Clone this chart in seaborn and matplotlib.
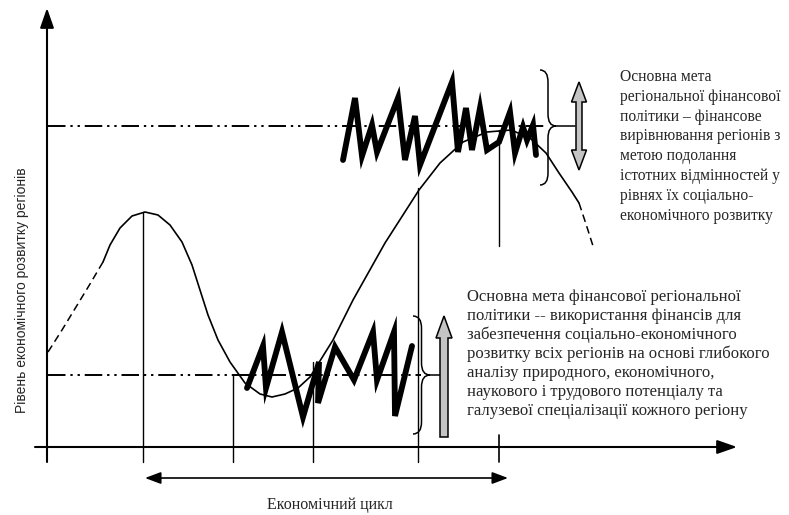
import numpy as np
import pandas as pd
import seaborn as sns
import matplotlib.pyplot as plt
from matplotlib.path import Path
from matplotlib.patches import PathPatch, Polygon


# основна крива (пікселі картинки, y вниз)
kriva_pochatok_x = [48, 62, 76, 90, 103]
kriva_pochatok_y = [352, 330, 307, 284, 262]

kriva_x = [103, 110, 120, 132, 145, 158, 170, 182, 192, 200, 208, 218, 230, 245, 260, 272,
           285, 298, 310, 333, 353, 385, 419, 440, 463, 487, 511, 530, 546, 559, 572, 579]
kriva_y = [262, 245, 228, 216, 212, 215, 225, 242, 265, 290, 315, 340, 362, 383, 394, 397,
           394, 388, 377, 340, 300, 243, 190, 163, 142, 132, 130, 138, 153, 173, 192, 203]

kriva_kinec_x = [579, 586, 593]
kriva_kinec_y = [203, 224, 246]

# коливання (зигзаги)
zigzag_verh_x = [343, 355, 362, 372, 377, 398, 405, 415, 420, 452, 458, 466, 472,
                 480, 487, 499, 510, 515, 523, 527, 533, 536]
zigzag_verh_y = [160, 98, 156, 125, 152, 98, 160, 116, 165, 82, 152, 108, 150,
                 108, 150, 142, 112, 153, 127, 140, 125, 155]

zigzag_niz_x = [247, 263, 266, 282, 303, 319, 318, 335, 354, 373, 377, 394, 395, 412]
zigzag_niz_y = [388, 346, 388, 332, 417, 362, 403, 347, 380, 332, 380, 332, 416, 346]

# рівні
riven_verh = 126
riven_niz = 375

# вертикальні лінії: x, верх, низ
vertykali_x = [143, 233, 313, 418, 499]
vertykali_verh = [212, 375, 362, 188, 130]
vertykali_niz = [462, 462, 462, 462, 246]

tekst_verh = ["Основна мета",
              "регіональної фінансової",
              "політики – фінансове",
              "вирівнювання регіонів з",
              "метою подолання",
              "істотних відмінностей у",
              "рівнях їх соціально-",
              "економічного розвитку"]

tekst_niz = ["Основна мета фінансової регіональної",
             "політики -- використання фінансів для",
             "забезпечення соціально-економічного",
             "розвитку всіх регіонів на основі глибокого",
             "аналізу природного, економічного,",
             "наукового і трудового потенціалу та",
             "галузевої спеціалізації кожного регіону"]

pidpys_y = "Рівень економічного розвитку регіонів"
pidpys_x = "Економічний цикл"


def duzhka(ax, x0, w, y_top, y_bot, y_mid, r=12):
    xm = x0 + w / 2
    verts = [(x0, y_top), (xm, y_top), (xm, y_top + r),
             (xm, y_mid - r), (xm, y_mid), (x0 + w, y_mid),
             (xm, y_mid), (xm, y_mid + r),
             (xm, y_bot - r), (xm, y_bot), (x0, y_bot)]
    codes = [Path.MOVETO, Path.CURVE3, Path.CURVE3,
             Path.LINETO, Path.CURVE3, Path.CURVE3,
             Path.CURVE3, Path.CURVE3,
             Path.LINETO, Path.CURVE3, Path.CURVE3]
    ax.add_patch(PathPatch(Path(verts, codes), fc="none", ec="black", lw=1.1))


def sira_strilka(ax, x, y_tip, y_end, shaft=6, head=15, head_len=18, dvi=False):
    s, h = shaft / 2, head / 2
    pts = [(x, y_tip), (x + h, y_tip + head_len), (x + s, y_tip + head_len)]
    if dvi:
        pts += [(x + s, y_end - head_len), (x + h, y_end - head_len), (x, y_end),
                (x - h, y_end - head_len), (x - s, y_end - head_len)]
    else:
        pts += [(x + s, y_end), (x - s, y_end)]
    pts += [(x - s, y_tip + head_len), (x - h, y_tip + head_len)]
    ax.add_patch(Polygon(pts, closed=True, fc="#c4c4c4", ec="black", lw=1.1, zorder=5))


def main():
    sns.set_theme(style="white")
    plt.rcParams["font.family"] = ["Liberation Serif", "DejaVu Serif"]

    fig = plt.figure(figsize=(7.89, 5.15), dpi=100)
    ax = fig.add_axes([0, 0, 1, 1])
    ax.set_xlim(0, 789)
    ax.set_ylim(515, 0)
    ax.axis("off")

    # осі
    ax.annotate("", xy=(47, 8), xytext=(47, 462),
                arrowprops=dict(arrowstyle="-|>,head_width=0.35,head_length=1.0",
                                color="black", lw=1.5, shrinkA=0, shrinkB=0))
    ax.annotate("", xy=(737, 447), xytext=(35, 447),
                arrowprops=dict(arrowstyle="-|>,head_width=0.35,head_length=1.0",
                                color="black", lw=1.5, shrinkA=0, shrinkB=0))
    ax.plot([499, 499], [435, 462], color="black", lw=1.2)

    for x, y0, y1 in zip(vertykali_x, vertykali_verh, vertykali_niz):
        ax.plot([x, x], [y0, y1], color="black", lw=1.0)

    # рівні
    ax.plot([48, 545], [riven_verh, riven_verh], color="black", lw=1.4,
            dashes=(9, 2.5, 1.2, 2.5, 1.2, 2.5))
    ax.plot([48, 421], [riven_niz, riven_niz], color="black", lw=1.4,
            dashes=(9, 2.5, 1.2, 2.5, 1.2, 2.5))
    ax.plot([556, 575], [riven_verh, riven_verh], color="black", lw=1.1)
    ax.plot([430, 440], [riven_niz, riven_niz], color="black", lw=1.1)

    # крива
    df1 = pd.DataFrame({"x": kriva_pochatok_x, "y": kriva_pochatok_y})
    df2 = pd.DataFrame({"x": kriva_x, "y": kriva_y})
    df3 = pd.DataFrame({"x": kriva_kinec_x, "y": kriva_kinec_y})
    sns.lineplot(data=df1, x="x", y="y", sort=False, estimator=None, color="black",
                 lw=1.1, linestyle=(0, (5, 3)), ax=ax)
    sns.lineplot(data=df2, x="x", y="y", sort=False, estimator=None, color="black",
                 lw=1.2, ax=ax)
    sns.lineplot(data=df3, x="x", y="y", sort=False, estimator=None, color="black",
                 lw=1.1, linestyle=(0, (5, 3)), ax=ax)

    # зигзаги
    for zx, zy in [(zigzag_verh_x, zigzag_verh_y), (zigzag_niz_x, zigzag_niz_y)]:
        sns.lineplot(x=zx, y=zy, sort=False, estimator=None, color="black",
                     lw=4.2, ax=ax)
        ax.lines[-1].set_solid_joinstyle("miter")

    # дужки та стрілки
    duzhka(ax, 540, 16, 70, 185, riven_verh)
    duzhka(ax, 413, 17, 316, 434, riven_niz)
    sira_strilka(ax, 579, 82, 170, shaft=6, head=15, head_len=20, dvi=True)
    sira_strilka(ax, 444, 316, 437, shaft=8, head=16, head_len=22)

    # економічний цикл
    ax.annotate("", xy=(145, 478), xytext=(508, 478),
                arrowprops=dict(arrowstyle="<|-|>,head_width=0.3,head_length=0.8",
                                color="black", lw=1.2, shrinkA=0, shrinkB=0))
    ax.text(330, 505, pidpys_x, fontsize=11.5, ha="center", va="center")

    ax.text(22, 290, pidpys_y, fontsize=10, rotation=90, ha="center", va="center",
            family=["Liberation Sans", "DejaVu Sans"])

    for i, line in enumerate(tekst_verh):
        ax.text(620, 77 + i * 19.8, line, fontsize=11.2, ha="left", va="center")
    for i, line in enumerate(tekst_niz):
        ax.text(467, 297 + i * 19, line, fontsize=12, ha="left", va="center")

    ax.set_xlim(0, 789)
    ax.set_ylim(515, 0)
    fig.savefig("out.png", dpi=100, facecolor="white")


if __name__ == "__main__":
    main()
